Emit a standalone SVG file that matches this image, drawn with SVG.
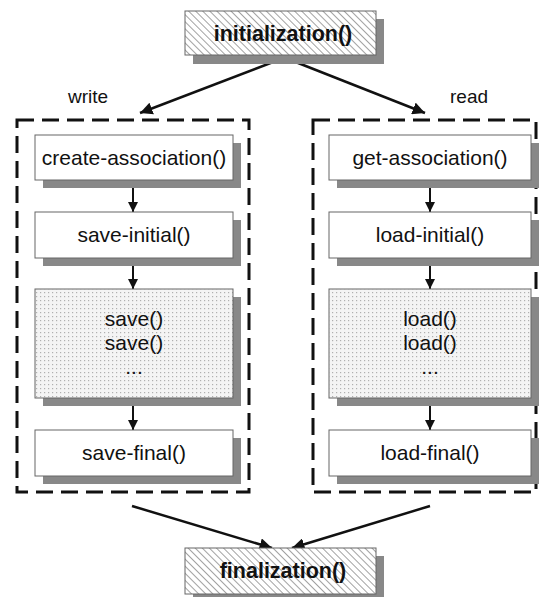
<svg xmlns="http://www.w3.org/2000/svg" width="539" height="597" viewBox="0 0 539 597">
<style>
  .lbl { font-family: "Liberation Sans", Arial, sans-serif; font-size: 21px; fill: #111; text-anchor: middle; }
  .bold { font-family: "Liberation Sans", Arial, sans-serif; font-size: 21.5px; font-weight: bold; fill: #111; text-anchor: middle; }
  .side { font-family: "Liberation Sans", Arial, sans-serif; font-size: 19px; fill: #111; text-anchor: middle; }
  .box { fill: #fff; stroke: #666; stroke-width: 1; }
  .dotbox { fill: url(#dots); stroke: #666; stroke-width: 1; }
  .hatchbox { fill: url(#hatch); stroke: #666; stroke-width: 1; }
  .shadow { fill: #888; }
  .group { fill: none; stroke: #111; stroke-width: 3; stroke-dasharray: 17 8; }
  .conn { stroke: #111; stroke-width: 2.5; fill: none; marker-end: url(#arrow); }
  .vconn { stroke: #111; stroke-width: 2; fill: none; marker-end: url(#arrow); }
</style>
<defs>
  <pattern id="hatch" patternUnits="userSpaceOnUse" width="5" height="5" patternTransform="rotate(-45)">
    <rect width="5" height="5" fill="#fff"/>
    <line x1="0" y1="0" x2="0" y2="5" stroke="#8a8a8a" stroke-width="1.6"/>
  </pattern>
  <pattern id="dots" patternUnits="userSpaceOnUse" width="4" height="4">
    <rect width="4" height="4" fill="#f4f4f4"/>
    <rect x="0" y="0" width="1.2" height="1.2" fill="#b0b0b0"/>
  </pattern>
  <marker id="arrow" viewBox="0 0 10 10" refX="10" refY="5" markerWidth="5" markerHeight="5" orient="auto" markerUnits="strokeWidth">
    <path d="M0,0 L10,5 L0,10 z" fill="#111"/>
  </marker>
</defs>

<g id="containers">
  <rect id="write-group" class="group" x="17" y="120" width="232" height="372"/>
  <rect id="read-group" class="group" x="313" y="120" width="223" height="372"/>
</g>

<text class="side" x="88" y="103">write</text>
<text class="side" x="469" y="103">read</text>

<g id="connectors">
  <line class="conn" x1="281" y1="59" x2="140" y2="113"/>
  <line class="conn" x1="288" y1="59" x2="425" y2="113"/>
  <line class="vconn" x1="133" y1="181" x2="133" y2="212"/>
  <line class="vconn" x1="133" y1="258" x2="133" y2="289"/>
  <line class="vconn" x1="133" y1="398" x2="133" y2="430"/>
  <line class="vconn" x1="430" y1="181" x2="430" y2="212"/>
  <line class="vconn" x1="430" y1="258" x2="430" y2="289"/>
  <line class="vconn" x1="430" y1="398" x2="430" y2="430"/>
  <line class="conn" x1="132" y1="506" x2="272" y2="548"/>
  <line class="conn" x1="430" y1="506" x2="292" y2="548"/>
</g>

<g id="initialization">
  <rect class="shadow" x="193" y="19" width="191" height="45"/>
  <rect class="hatchbox" x="185" y="11" width="191" height="44"/>
  <text class="bold" x="283" y="41">initialization()</text>
</g>

<g id="create-association">
  <rect class="shadow" x="43" y="143" width="198" height="45"/>
  <rect class="box" x="35" y="135" width="198" height="45"/>
  <text class="lbl" x="134" y="165">create-association()</text>
</g>
<g id="save-initial">
  <rect class="shadow" x="43" y="220" width="198" height="46"/>
  <rect class="box" x="35" y="212" width="198" height="46"/>
  <text class="lbl" x="134" y="242">save-initial()</text>
</g>
<g id="save">
  <rect class="shadow" x="43" y="297" width="198" height="109"/>
  <rect class="dotbox" x="35" y="289" width="198" height="109"/>
  <text class="lbl" x="134" y="326">save()</text>
  <text class="lbl" x="134" y="350">save()</text>
  <text class="lbl" x="134" y="374">...</text>
</g>
<g id="save-final">
  <rect class="shadow" x="43" y="438" width="198" height="46"/>
  <rect class="box" x="35" y="430" width="198" height="46"/>
  <text class="lbl" x="134" y="460">save-final()</text>
</g>

<g id="get-association">
  <rect class="shadow" x="337" y="143" width="202" height="45"/>
  <rect class="box" x="329" y="135" width="202" height="45"/>
  <text class="lbl" x="430" y="165">get-association()</text>
</g>
<g id="load-initial">
  <rect class="shadow" x="337" y="220" width="202" height="46"/>
  <rect class="box" x="329" y="212" width="202" height="46"/>
  <text class="lbl" x="430" y="242">load-initial()</text>
</g>
<g id="load">
  <rect class="shadow" x="337" y="297" width="202" height="109"/>
  <rect class="dotbox" x="329" y="289" width="202" height="109"/>
  <text class="lbl" x="430" y="326">load()</text>
  <text class="lbl" x="430" y="350">load()</text>
  <text class="lbl" x="430" y="374">...</text>
</g>
<g id="load-final">
  <rect class="shadow" x="337" y="438" width="202" height="46"/>
  <rect class="box" x="329" y="430" width="202" height="46"/>
  <text class="lbl" x="430" y="460">load-final()</text>
</g>

<g id="finalization">
  <rect class="shadow" x="193" y="556" width="191" height="45"/>
  <rect class="hatchbox" x="185" y="548" width="191" height="46"/>
  <text class="bold" x="283" y="578">finalization()</text>
</g>
</svg>
